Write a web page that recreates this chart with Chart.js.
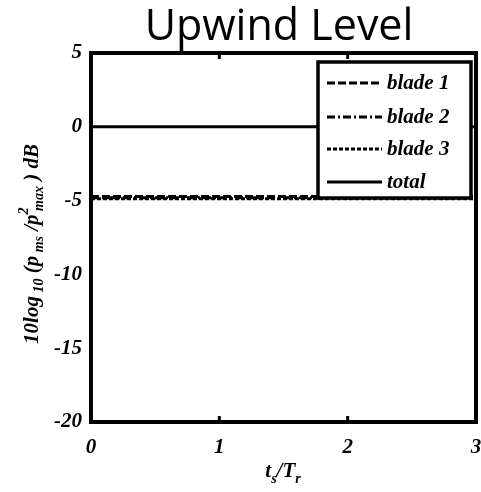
<!DOCTYPE html>
<html><head><meta charset="utf-8">
<script src="https://cdn.jsdelivr.net/npm/chart.js@4"></script>
<style>html,body{margin:0;padding:0;background:#fff}canvas{display:block}</style>
</head><body>
<canvas id="c" width="481" height="492"></canvas>
<script>
// ---- data ----
const timeValues = [0, 0.5, 1, 1.5, 2, 2.5, 3];
const blade1 = [-4.72, -4.72, -4.72, -4.72, -4.72, -4.72, -4.72];
const blade2 = [-4.80, -4.80, -4.80, -4.80, -4.80, -4.80, -4.80];
const blade3 = [-4.88, -4.88, -4.88, -4.88, -4.88, -4.88, -4.88];
const total  = [0, 0, 0, 0, 0, 0, 0];
const seriesNames = ['blade 1', 'blade 2', 'blade 3', 'total'];
const xTickValues = [0, 1, 2, 3];
const yTickValues = [5, 0, -5, -10, -15, -20];
const titleText = 'Upwind Level';

const SERIF = '"Liberation Serif", "Times New Roman", serif';
const dashes = [[8, 3], [8, 3, 2, 3], [4, 2], []];

function pts(ys) { return timeValues.map((x, i) => ({x: x, y: ys[i]})); }
const seriesData = [blade1, blade2, blade3, total];

const datasets = seriesData.map((d, i) => ({
  label: seriesNames[i],
  data: pts(d),
  borderColor: '#000',
  borderWidth: 3,
  borderDash: dashes[i],
  pointRadius: 0,
  fill: false,
  tension: 0
}));

function richWidth(ctx, segs) {
  let w = 0;
  for (const s of segs) {
    ctx.font = 'italic bold ' + s.s + 'px ' + SERIF;
    if (s.stack) {
      let m = 0;
      for (const p of s.stack) m = Math.max(m, ctx.measureText(p.t).width);
      w += m;
    } else w += ctx.measureText(s.t).width;
  }
  return w;
}
function drawRich(ctx, x, y, segs) {
  const w = richWidth(ctx, segs);
  let cx = x - w / 2;
  ctx.textAlign = 'left'; ctx.textBaseline = 'alphabetic'; ctx.fillStyle = '#000';
  for (const s of segs) {
    ctx.font = 'italic bold ' + s.s + 'px ' + SERIF;
    if (s.stack) {
      let m = 0;
      for (const p of s.stack) { ctx.fillText(p.t, cx, y + p.dy); m = Math.max(m, ctx.measureText(p.t).width); }
      cx += m;
    } else {
      ctx.fillText(s.t, cx, y + (s.dy || 0));
      cx += ctx.measureText(s.t).width;
    }
  }
}

const decor = {
  id: 'decor',
  afterDraw(chart) {
    const ctx = chart.ctx, a = chart.chartArea;
    const xs = chart.scales.x;
    ctx.save();
    // inward ticks
    ctx.strokeStyle = '#000'; ctx.lineWidth = 3;
    for (const v of xTickValues) {
      if (v === xs.min || v === xs.max) continue;
      const px = xs.getPixelForValue(v);
      ctx.beginPath(); ctx.moveTo(px, a.bottom); ctx.lineTo(px, a.bottom - 6); ctx.stroke();
      ctx.beginPath(); ctx.moveTo(px, a.top); ctx.lineTo(px, a.top + 6); ctx.stroke();
    }
    // frame
    ctx.lineWidth = 4;
    ctx.strokeRect(a.left, a.top, a.right - a.left, a.bottom - a.top);
    // legend
    const lx = 318, ly = 62, lw = 153, lh = 136;
    ctx.fillStyle = '#fff';
    ctx.fillRect(lx, ly, lw, lh);
    ctx.lineWidth = 3.5;
    ctx.strokeRect(lx, ly, lw, lh);
    const rows = [83, 117, 149, 182];
    chart.data.datasets.forEach((ds, i) => {
      ctx.lineWidth = 3;
      ctx.setLineDash(ds.borderDash);
      ctx.beginPath(); ctx.moveTo(327, rows[i]); ctx.lineTo(382, rows[i]); ctx.stroke();
      ctx.setLineDash([]);
      ctx.fillStyle = '#000';
      ctx.font = 'italic bold 21px ' + SERIF;
      ctx.textAlign = 'left'; ctx.textBaseline = 'middle';
      ctx.fillText(ds.label, 387, rows[i] + 1);
    });
    // title
    ctx.font = '43px "Open Sans", sans-serif';
    ctx.textAlign = 'center'; ctx.textBaseline = 'alphabetic'; ctx.fillStyle = '#000';
    ctx.fillText(titleText, 279, 40);
    // x label
    drawRich(ctx, 283, 477, [
      {t: 't', s: 21}, {t: 's', s: 14, dy: 6}, {t: '/T', s: 21}, {t: 'r', s: 14, dy: 6}
    ]);
    // y label
    ctx.save();
    ctx.translate(38, 244);
    ctx.rotate(-Math.PI / 2);
    drawRich(ctx, 0, 0, [
      {t: '10log', s: 21}, {t: ' 10', s: 14, dy: 5}, {t: ' (p', s: 21},
      {t: ' ms', s: 14, dy: 5}, {t: ' /p', s: 21},
      {s: 14, stack: [{t: '2', dy: -10}, {t: ' max', dy: 5}]},
      {t: ' ) dB', s: 21}
    ]);
    ctx.restore();
    ctx.restore();
  }
};

const tickFont = { family: SERIF, size: 21, style: 'italic', weight: 'bold' };

new Chart(document.getElementById('c'), {
  type: 'line',
  data: { datasets: datasets },
  options: {
    responsive: false,
    animation: false,
    devicePixelRatio: 1,
    layout: { padding: { top: 53, right: 5, left: 0, bottom: 0 } },
    plugins: { legend: { display: false }, title: { display: false }, tooltip: { enabled: false } },
    scales: {
      x: {
        type: 'linear', min: 0, max: 3,
        grid: { display: false, drawTicks: false }, border: { display: false },
        afterFit(s) { s.height = 70; s.paddingLeft = 0; s.paddingRight = 0; },
        afterBuildTicks(s) { s.ticks = xTickValues.map(v => ({value: v})); },
        ticks: { color: '#000', padding: 13, maxRotation: 0, font: tickFont, callback: v => String(v) }
      },
      y: {
        type: 'linear', min: -20, max: 5,
        grid: { display: false, drawTicks: false }, border: { display: false },
        afterFit(s) { s.width = 91; s.paddingTop = 0; s.paddingBottom = 0; },
        afterBuildTicks(s) { s.ticks = yTickValues.map(v => ({value: v})); },
        ticks: { color: '#000', padding: 9, font: tickFont, callback: v => String(v) }
      }
    }
  },
  plugins: [decor]
});
</script>
</body></html>
